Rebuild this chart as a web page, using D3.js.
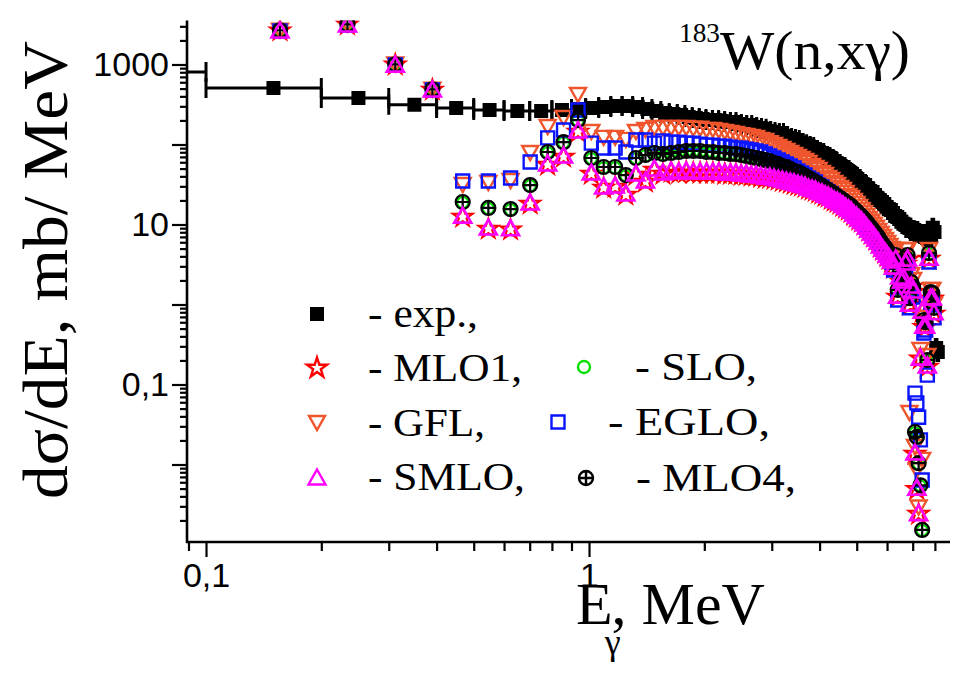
<!DOCTYPE html>
<html><head><meta charset="utf-8">
<script src="https://cdn.jsdelivr.net/npm/d3@7"></script>
<style>body{margin:0;background:#fff}svg{display:block}
.serif{font-family:"Liberation Serif","Times New Roman",serif}
.sans{font-family:"Liberation Sans",Arial,sans-serif}</style>
</head><body>
<svg id="chart" width="954" height="676"></svg>
<script>
// ---------- DATA ----------
// model energy grid (MeV)
const modelE = [0.156,0.234,0.312,0.39,0.468,0.546,0.624,0.702,0.78,0.858,0.936,1.014,1.092,1.17,1.248,1.326,1.404,1.482,
 1.56,1.638,1.716,1.794,1.872,1.95,2.028,2.106,2.184,2.262,
 2.34,2.418,2.496,2.574,2.652,2.73,2.808,2.886,2.964,3.042,
 3.12,3.198,3.276,3.354,3.432,3.51,3.588,3.666,3.744,3.822,
 3.9,3.978,4.056,4.134,4.212,4.29,4.368,4.446,4.524,4.602,
 4.68,4.758,4.836,4.914,4.992,5.07,5.148,5.226,5.304,5.382,
 5.46,5.538,5.616,5.694,5.772,5.85,5.928,6.006,6.084,6.162,
 6.24,6.318,6.396,6.474,6.552,6.63,6.708,6.786,6.864,6.942,
 7.02,7.098,7.176,7.254,7.332,7.41,7.488,7.566,7.644,7.722,
 7.8,7.878,7.956];

const mlo1 = [2650,3150,990,480,12.4,8.8,8.6,18.1,55.4,69.8,143,42.7,28.6,29.4,23.4,41.5,34.0,48.0,
 42.7,45.3,44.0,45.3,44.0,44.0,44.0,44.0,44.0,42.7, 42.7,42.7,41.5,41.5,40.4,40.4,39.2,38.1,38.1,37.0,
 36.0,34.9,34.0,33.0,32.0,31.1,30.3,29.4,27.8,27.0, 26.2,24.8,24.1,22.7,22.1,20.8,19.7,19.1,18.1,17.0,
 16.1,15.2,14.3,13.1,12.4,11.4,10.8,9.9,9.1,8.3, 7.6,7.0,6.4,5.9,5.2,4.8,4.4,4.0,3.7,3.4,
 2.85,3.6,1.24,2.14,1.9,2.08,3.2,3.6,0.98,1.65, 1.43,0.0135,0.0049,0.0024,0.21,0.8,0.52,0.52,0.165,3.7, 1.17,1.17,0.76];

const slo = [2660,3160,1000,486,18.8,15.8,15.3,30.5,79,105,198,66.5,51.3,51.3,40.7,66.5,72.4,76.7,
 74.6,76.7,79.0,81.3,81.3,81.3,79.0,79.0,76.7,76.7, 74.6,74.6,72.4,70.4,68.4,66.4,64.6,62.7,61.0,57.5,
 55.9,52.7,51.3,48.4,45.7,44.4,41.8,39.6,37.3,35.3, 33.3,31.4,29.7,28.0,26.5,25.0,23.6,22.2,21.0,19.8,
 18.7,17.7,16.7,15.3,14.5,13.2,12.5,11.5,10.6,9.7, 8.9,8.1,7.5,6.8,6.1,5.6,5.1,4.7,4.3,3.84,
 3.33,4.07,1.49,2.5,2.22,2.35,3.73,4.07,1.18,1.86, 1.63,0.025,0.0217,0.0102,0.0054,0.0015,0.63,0.59,0.198,4.31, 1.4,1.36,0.89];

const gfl = [2650,3150,1000,485,31.1,33.0,34.9,78.3,165,214,416,143,121,121,114,143,152,161,
 161,161,161,161,157,157,152,152,148,143, 139,135,131,128,124,121,114,111,104,98.3,
 92.8,87.6,83.0,78.3,73.9,69.8,65.9,62.2,58.7,53.8, 50.8,48.0,44.0,41.5,38.1,36.0,33.0,31.1,28.6,27.0,
 24.8,22.7,21.4,19.7,18.1,16.6,15.2,13.9,12.8,11.7, 10.8,9.9,9.1,8.3,7.61,6.98,6.40,5.87,5.38,4.94,
 4.53,4.80,2.02,3.40,3.02,3.20,4.80,4.80,0.044,2.34, 2.02,0.0165,0.0085,0.0029,0.27,0.0114,0.68,0.68,0.227,4.80, 1.52,1.52,0.99];

const eglo = [2620,3120,986,480,35.0,35.0,38.1,60.4,121,152,270,104,90.4,90.4,80.6,114,114,104,
 111,107,107,104,104,101,98.3,98.3,95.5,95.5, 92.8,90.2,90.2,87.6,85.4,83.0,80.6,76.1,71.8,67.8,
 64.0,60.4,57.0,53.8,50.8,46.6,44.0,41.5,38.1,36.0, 34.0,31.1,29.4,27.0,25.5,24.1,22.1,20.8,19.7,18.1,
 17.0,16.1,14.8,13.9,12.8,12.1,11.1,10.2,9.3,8.54, 7.84,7.19,6.59,6.04,5.38,4.94,4.53,4.15,3.81,3.40,
 2.70,3.40,1.14,1.9,1.8,1.9,3.02,3.40,0.91,1.52, 1.24,0.078,0.059,0.039,0.0203,0.0064,0.44,0.48,0.131,3.40, 1.07,1.07,0.68];

const mlo4 = [2680,3180,1005,490,19.1,16.1,15.6,31.1,80.6,107,202,67.8,52.3,52.3,41.5,67.8,73.9,78.3,
 76.1,78.3,80.6,83.0,83.0,83.0,80.6,80.6,78.3,78.3, 76.1,76.1,73.9,71.8,69.8,67.8,65.9,64.0,62.2,58.7,
 57.0,53.8,52.3,49.4,46.6,45.3,42.7,40.4,38.1,36.0, 34.0,32.0,30.3,28.6,27.0,25.5,24.1,22.7,21.4,20.25,
 19.1,18.1,17.0,15.6,14.8,13.5,12.8,11.7,10.8,9.9, 9.1,8.3,7.61,6.98,6.22,5.70,5.23,4.80,4.40,3.92,
 3.40,4.15,1.52,2.55,2.27,2.4,3.81,4.15,1.2,1.9, 1.66,0.0255,0.0221,0.0104,0.0055,0.00152,0.64,0.60,0.2025,4.40, 1.43,1.39,0.91];

const smlo = [2700,3200,1010,494,13.1,9.3,9.1,19.1,58.7,73.9,152,45.3,30.3,31.1,24.8,44.0,36.0,50.8,
 45.3,48.0,46.6,48.0,46.6,46.6,46.6,46.6,46.6,45.3, 45.3,45.3,44.0,44.0,42.7,42.7,41.5,40.4,40.4,39.2,
 38.1,37.0,36.0,34.9,34.0,33.0,32.0,31.1,29.4,28.6, 27.8,26.2,25.5,24.1,23.4,22.1,20.8,20.25,19.1,18.1,
 17.0,16.1,15.2,13.9,13.1,12.1,11.4,10.5,9.6,8.8, 8.07,7.40,6.78,6.22,5.54,5.08,4.66,4.27,3.92,3.60,
 3.02,3.81,1.31,2.27,2.02,2.2,3.4,3.81,1.04,1.75, 1.52,0.0143,0.0052,0.0025,0.22,0.85,0.55,0.55,0.175,3.9, 1.24,1.24,0.81];

// experiment: bin centre (MeV), half bin width (MeV), value (mb/MeV)
const expE = [0.05,0.15,0.25,0.35,0.45,0.55,0.65,0.75,0.85,
 0.94,1.02,1.10,1.18,1.26,1.34,1.42,1.50,1.58,1.66, 1.74,1.82,1.90,1.98,2.06,2.14,2.22,2.30,2.38,2.46,
 2.54,2.62,2.70,2.78,2.86,2.94,3.02,3.10,3.18,3.26, 3.34,3.42,3.50,3.58,3.66,3.74,3.82,3.90,3.98,4.06,
 4.14,4.22,4.30,4.38,4.46,4.54,4.62,4.70,4.78,4.86, 4.94,5.02,5.10,5.18,5.26,5.34,5.42,5.50,5.58,5.66,
 5.74,5.82,5.90,5.98,6.06,6.14,6.22,6.30,6.38,6.46, 6.54,6.62,6.70,6.78,6.86,6.94,7.02,7.10,7.18,7.26,
 7.34,7.42,7.50,7.58,7.66,7.74,7.82,7.90,7.98,8.06, 8.14];
const expDE = [0.05,0.05,0.05,0.05,0.05,0.05,0.05,0.05,0.05,
 0.04,0.04,0.04,0.04,0.04,0.04,0.04,0.04,0.04,0.04, 0.04,0.04,0.04,0.04,0.04,0.04,0.04,0.04,0.04,0.04,
 0.04,0.04,0.04,0.04,0.04,0.04,0.04,0.04,0.04,0.04, 0.04,0.04,0.04,0.04,0.04,0.04,0.04,0.04,0.04,0.04,
 0.04,0.04,0.04,0.04,0.04,0.04,0.04,0.04,0.04,0.04, 0.04,0.04,0.04,0.04,0.04,0.04,0.04,0.04,0.04,0.04,
 0.04,0.04,0.04,0.04,0.04,0.04,0.04,0.04,0.04,0.04, 0.04,0.04,0.04,0.04,0.04,0.04,0.04,0.04,0.04,0.04,
 0.04,0.04,0.04,0.04,0.04,0.04,0.04,0.04,0.04,0.04, 0.04];
const expV = [806,508,381,313,286,270,263,263,270,
 278,286,294,303,303,294,278,263,248,240, 233,220,214,208,202,202,196,191,191,180,
 175,175,165,161,157,148,143,135,139,128, 121,117,114,104,101,95.5,92.8,85.4,80.6,78.3,
 71.8,69.8,65.9,62.2,57.0,53.8,52.3,48.0,45.3,42.7, 40.4,37.0,34.9,32.0,31.1,28.6,26.2,25.5,23.4,21.4,
 20.25,19.1,18.1,16.6,15.6,15.2,13.9,12.8,12.4,11.7, 10.8,10.2,9.9,9.3,9.1,8.3,8.54,8.07,8.3,7.84,
 7.61,7.40,7.61,7.19,6.98,7.40,7.19,9.1,8.07,0.286, 0.255];

const yMajorTicks = [0.01,0.1,1,10,100,1000];
const yTickLabels = {"1000":"1000","10":"10","0.1":"0,1"};
const xMajorTicks = [0.1,1];
const xTickLabels = {"0.1":"0,1","1":"1"};
const legendNames = ["- exp.,","- MLO1,","- GFL,","- SMLO,","- SLO,","- EGLO,","- MLO4,"];

// ---------- DRAW ----------
const svg = d3.select("#chart");
const x = d3.scaleLog().domain([0.0892, 8.76]).range([187, 950]);
const y = d3.scaleLog().domain([0.001075, 3548]).range([542, 20.5]);
const [x0,x1] = x.range(), [y0,y1] = y.range();

svg.append("clipPath").attr("id","clip").append("rect")
  .attr("x",x0).attr("y",y1).attr("width",x1-x0).attr("height",y0-y1);

const sym = {
  square: s => `M${-s/2},${-s/2}h${s}v${s}h${-s}Z`,
  triUp: s => `M0,${-s*0.44}L${s/2},${s*0.44}L${-s/2},${s*0.44}Z`,
  triDown: s => `M${-s/2},${-s*0.44}L${s/2},${-s*0.44}L0,${s*0.44}Z`,
  star: s => d3.symbol(d3.symbolStar, s*s*0.55)(),
  circle: s => d3.symbol(d3.symbolCircle, Math.PI*s*s/4)(),
  oplus: s => `M${-s/2},0A${s/2},${s/2} 0 1,1 ${s/2},0A${s/2},${s/2} 0 1,1 ${-s/2},0ZM${-s/2},0H${s/2}M0,${-s/2}V${s/2}`
};

const plot = svg.append("g").attr("clip-path","url(#clip)");

// experiment
const expData = expE.map((e,i)=>({e, de:expDE[i], v:expV[i]}));
plot.append("g").selectAll("path").data(expData).join("path")
  .attr("d", d => {
    const lo = x(Math.max(d.e-d.de, 1e-3)), hi = x(d.e+d.de), yy = y(d.v);
    return `M${lo},${yy}H${hi}M${lo},${yy-10}V${yy+10}M${hi},${yy-10}V${yy+10}`;
  })
  .attr("stroke","#000").attr("stroke-width",3).attr("fill","none");
plot.append("g").selectAll("path").data(expData).join("path")
  .attr("transform", d => `translate(${x(d.e)},${y(d.v)})`)
  .attr("d", sym.square(14)).attr("fill","#000");

const series = [
  {vals: mlo1, shape:"star", size:15, color:"#ff0000", sw:2},
  {vals: slo,  shape:"circle", size:11, color:"#00e000", sw:2},
  {vals: gfl,  shape:"triDown", size:16, color:"#f0562e", sw:2.4},
  {vals: eglo, shape:"square", size:13, color:"#0a14ff", sw:2.4},
  {vals: mlo4, shape:"oplus", size:14, color:"#000000", sw:2.2},
  {vals: smlo, shape:"triUp", size:17, color:"#ff00ff", sw:2.6}
];
series.forEach(s => {
  const data = modelE.map((e,i)=>({e, v:s.vals[i]})).filter(d => d.v !== undefined);
  plot.append("g").selectAll("path").data(data).join("path")
    .attr("transform", d => `translate(${x(d.e)},${y(d.v)})`)
    .attr("d", sym[s.shape](s.size))
    .attr("fill","none").attr("stroke", s.color).attr("stroke-width", s.sw);
});

// axes
const yMinor = y.ticks().filter(t => !yMajorTicks.some(m => Math.abs(m-t)/m < 1e-6));
const xMinor = x.ticks().filter(t => !xMajorTicks.some(m => Math.abs(m-t)/m < 1e-6));
const fmtY = d => { for (const k in yTickLabels) if (Math.abs(+k-d)/d < 1e-6) return yTickLabels[k]; return ""; };
const fmtX = d => { for (const k in xTickLabels) if (Math.abs(+k-d)/d < 1e-6) return xTickLabels[k]; return ""; };

const gyMinor = svg.append("g").attr("transform",`translate(${x0},0)`)
  .call(d3.axisLeft(y).tickValues(yMinor).tickSize(7).tickFormat(""));
const gy = svg.append("g").attr("transform",`translate(${x0},0)`)
  .call(d3.axisLeft(y).tickValues(yMajorTicks).tickSize(15).tickPadding(3).tickFormat(fmtY));
const gxMinor = svg.append("g").attr("transform",`translate(0,${y0})`)
  .call(d3.axisBottom(x).tickValues(xMinor).tickSize(9).tickFormat(""));
const gx = svg.append("g").attr("transform",`translate(0,${y0})`)
  .call(d3.axisBottom(x).tickValues(xMajorTicks).tickSize(15).tickPadding(6).tickFormat(fmtX));

[gyMinor,gy,gxMinor,gx].forEach(g => {
  g.selectAll(".tick line").attr("stroke","#000").attr("stroke-width",2.2);
  g.select(".domain").attr("stroke","#000").attr("stroke-width",2.6);
  g.selectAll("text").attr("font-family",null).attr("class","sans").attr("font-size",34).attr("fill","#000");
});
gyMinor.select(".domain").remove(); gxMinor.select(".domain").remove();
gy.select(".domain").attr("d",`M0,${y0+1}V${y1}`);
gx.select(".domain").attr("d",`M${x0-1},0H${x1}`);

// axis titles
svg.append("text").attr("class","serif").attr("transform","translate(67,270) rotate(-90)")
  .attr("text-anchor","middle").attr("font-size",64)
  .attr("textLength",458).attr("lengthAdjust","spacingAndGlyphs")
  .text("dσ/dE, mb/ MeV");
const xl = svg.append("text").attr("class","serif").attr("x",576).attr("y",624).attr("font-size",60);
xl.append("tspan").text("E");
xl.append("tspan").attr("font-size",36).attr("dx",-8).attr("dy",30).text("γ");
xl.append("tspan").attr("dx",-9).attr("dy",-30).text(", MeV");

// title
svg.append("text").attr("class","serif").attr("x",679).attr("y",42).attr("font-size",28)
  .attr("textLength",41).attr("lengthAdjust","spacingAndGlyphs").text("183");
svg.append("text").attr("class","serif").attr("x",720).attr("y",69).attr("font-size",54)
  .attr("textLength",190).attr("lengthAdjust","spacingAndGlyphs").text("W(n,xγ)");

// legend
const legend = [
  {shape:"square", color:"#000", fill:"#000", mx:317, my:314, tx:368, w:110, size:14},
  {shape:"star", color:"#ff0000", mx:317, my:368, tx:368, w:154, size:15},
  {shape:"triDown", color:"#f0562e", mx:317, my:423, tx:368, w:117, size:16},
  {shape:"triUp", color:"#ff00ff", mx:317, my:477, tx:368, w:157, size:17},
  {shape:"circle", color:"#00e000", mx:584, my:367, tx:635, w:122, size:12},
  {shape:"square", color:"#0a14ff", mx:558, my:422, tx:608, w:162, size:13},
  {shape:"oplus", color:"#000", mx:586, my:478, tx:636, w:160, size:14}
];
const lg = svg.append("g");
legend.forEach((d,i) => {
  lg.append("path").attr("transform",`translate(${d.mx},${d.my})`).attr("d", sym[d.shape](d.size))
    .attr("fill", d.fill || "none").attr("stroke", d.color).attr("stroke-width", d.fill ? 0 : 2.4);
  lg.append("text").attr("class","serif").attr("x", d.tx).attr("y", d.my+13).attr("font-size",41)
    .attr("textLength", d.w).attr("lengthAdjust","spacingAndGlyphs")
    .text(legendNames[i]);
});
</script>
</body></html>
